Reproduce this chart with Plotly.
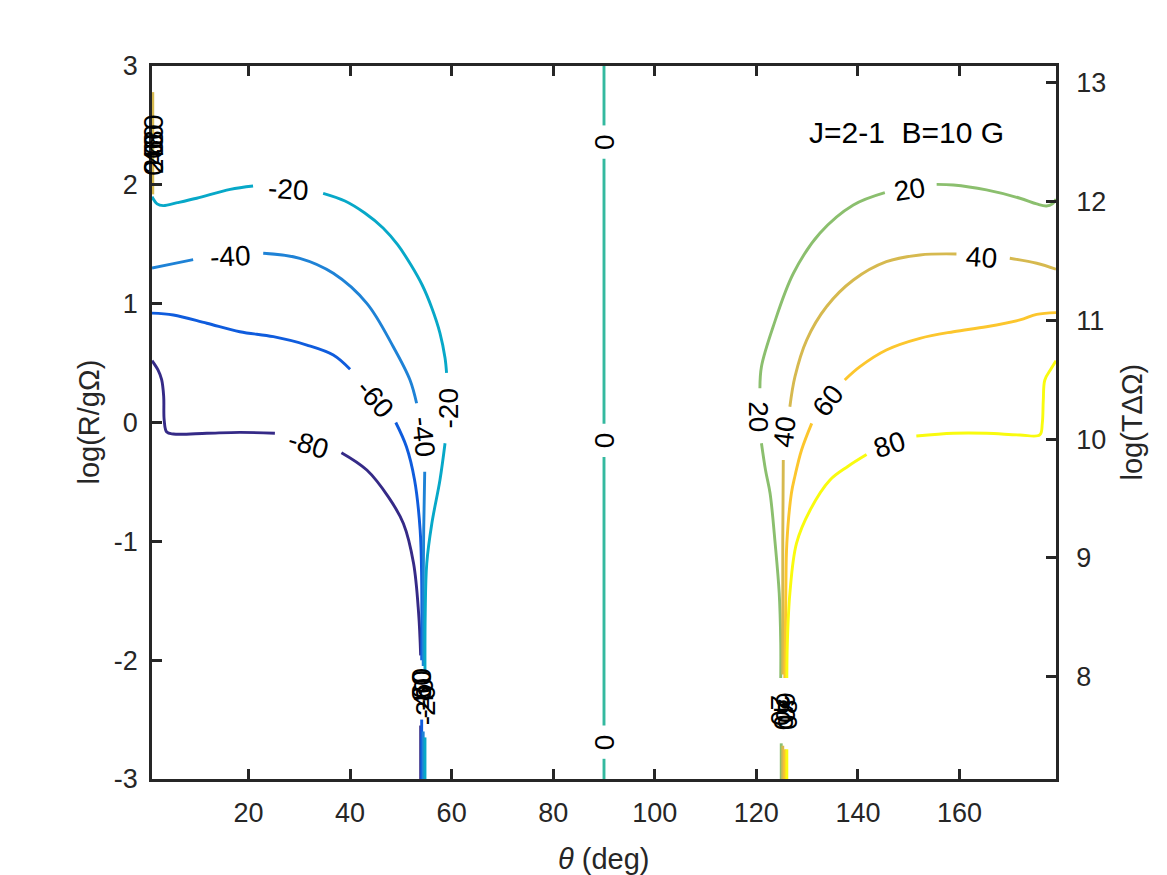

import plotly.graph_objects as go

# contour levels and parula-like colours
levels = [-80, -60, -40, -20, 0, 20, 40, 60, 80]
colors = ["#352a87", "#0f5cdd", "#1e82d6", "#07a8c8", "#34b99f",
          "#8bbf6e", "#d6b94f", "#fcc62d", "#f9fb0e"]

# traced contour paths: theta (deg) and log(R/gOmega); None breaks the line at a label
th_m80 = [1.0, 2.2, 2.9, 3.3, 3.4, 3.9, 5.2, 11.8, 18.3, 25.2, None,
          38.3, 43.3, 47.6, 50.5, 52.5, 53.5, 53.9, None, 53.9, 53.9]
lg_m80 = [0.52, 0.44, 0.36, 0.22, 0.02, -0.08, -0.097, -0.091, -0.083, -0.091, None,
          -0.254, -0.40, -0.63, -0.85, -1.185, -1.606, -1.96, None, -2.55, -3.0]

th_m60 = [1.0, 5.2, 11.8, 18.3, 24.9, 31.5, 36.7, 40.0, None,
          49.0, 51.1, 52.7, 53.8, 54.1, 54.1, None, 54.1, 54.1]
lg_m60 = [0.92, 0.905, 0.835, 0.764, 0.722, 0.652, 0.568, 0.448, None,
          0.0, -0.204, -0.484, -0.905, -1.325, -2.0, None, -2.5, -3.0]

th_m40 = [1.0, 5.0, 9.1, None, 22.9, 30.1, 36.7, 43.3, 48.5, 51.8, 53.1, None,
          54.7, 54.5, 54.4, 54.4, None, 54.4, 54.4]
lg_m40 = [1.30, 1.335, 1.37, None, 1.424, 1.382, 1.256, 1.003, 0.638, 0.358, 0.162, None,
          -0.414, -0.905, -1.5, -2.05, None, -2.6, -3.0]

th_m20 = [1.0, 2.0, 3.2, 6.0, 9.8, 16.4, 20.9, None,
          34.7, 39.0, 42.9, 46.5, 49.4, 52.0, 54.2, 56.1, 57.7, 58.7, 59.0, None,
          58.7, 57.7, 56.1, 55.1, 54.8, 54.75, None, 54.75, 54.75]
lg_m20 = [1.90, 1.84, 1.825, 1.85, 1.887, 1.962, 1.99, None,
          1.929, 1.864, 1.763, 1.637, 1.494, 1.325, 1.157, 0.964, 0.753, 0.543, 0.417, None,
          -0.175, -0.484, -0.85, -1.185, -1.606, -2.1, None, -2.65, -3.0]

th_0 = [90, 90, None, 90, 90, None, 90, 90, None, 90, 90]
lg_0 = [-3.0, -2.83, None, -2.55, -0.29, None, -0.01, 2.22, None, 2.50, 3.0]

th_20 = [124.9, 124.9, None, 124.8, 124.8, 124.5, 123.7, 122.7, 121.8, 121.0, None,
         120.7, 121.0, 123.3, 127.3, 132.5, 139.1, 145.3, None,
         155.5, 158.8, 165.3, 171.9, 175.2, 177.1, 178.3, 179.0]
lg_20 = [-3.0, -2.7, None, -2.15, -1.858, -1.437, -1.017, -0.596, -0.4, -0.175, None,
         0.288, 0.47, 0.806, 1.256, 1.592, 1.83, 1.934, None,
         2.004, 1.999, 1.957, 1.887, 1.839, 1.822, 1.84, 1.88]

th_40 = [125.2, 125.2, None, 125.2, 125.2, 125.3, None,
         126.6, 127.6, 129.9, 133.8, 139.1, 145.6, 152.2, 159.4, None,
         169.9, 175.2, 179.0, None, 1.15, 1.15]
lg_40 = [-3.0, -2.72, None, -2.12, -1.0, -0.316, None,
         0.133, 0.386, 0.694, 0.974, 1.199, 1.353, 1.41, 1.418, None,
         1.382, 1.34, 1.29, None, 1.92, 2.78]

th_60 = [125.6, 125.6, None, 125.6, 125.8, 126.0, 126.9, 127.6, 128.9, 130.9, None,
         137.4, 140.4, 145.6, 152.2, 158.8, 165.3, 171.9, 175.2, 179.0]
lg_60 = [-3.0, -2.75, None, -2.15, -1.437, -1.017, -0.596, -0.45, -0.231, -0.007, None,
         0.358, 0.47, 0.61, 0.708, 0.764, 0.806, 0.863, 0.91, 0.925]

th_80 = [126.0, 126.0, None, 126.0, 126.1, 126.6, 127.9, 130.6, 134.5, 138.0, 141.7, None,
         151.5, 158.8, 165.3, 171.9, 175.8, 176.3, 176.5, 176.8, 178.0, 179.0]
lg_80 = [-3.0, -2.75, None, -2.15, -1.858, -1.437, -1.017, -0.736, -0.484, -0.37, -0.27, None,
         -0.114, -0.091, -0.091, -0.105, -0.105, -0.007, 0.189, 0.358, 0.45, 0.52]

paths_th = [th_m80, th_m60, th_m40, th_m20, th_0, th_20, th_40, th_60, th_80]
paths_lg = [lg_m80, lg_m60, lg_m40, lg_m20, lg_0, lg_20, lg_40, lg_60, lg_80]

# contour labels: text, theta, log(R/gOmega), rotation
lab_text = ["-20", "-40", "-60", "-80", "-40", "-20",
            "0", "0", "0",
            "20", "40", "60", "80", "20", "40",
            "-80", "-60", "-40", "-20",
            "20", "40", "60", "80",
            "0", "20", "40", "60", "80"]
lab_th = [27.8, 16.4, 44.9, 31.8, 54.4, 59.3,
          90, 90, 90,
          150.2, 164.4, 134.1, 146.3, 120.4, 125.6,
          53.9, 54.1, 54.4, 54.75,
          124.9, 125.2, 125.6, 126.0,
          1.3, 1.3, 1.3, 1.3, 1.3]
lab_lg = [1.957, 1.395, 0.204, -0.189, -0.12, 0.119,
          2.36, -0.15, -2.69,
          1.962, 1.39, 0.189, -0.189, 0.049, -0.077,
          -2.26, -2.24, -2.32, -2.38,
          -2.42, -2.46, -2.40, -2.46,
          2.14, 2.22, 2.30, 2.38, 2.46]
lab_ang = [4, -3, 50, 17, 84, -90,
           -90, -90, -90,
           -9, 4, -52, -18, 90, -83,
           -90, -90, -90, -90,
           90, 90, 90, 90,
           -90, -90, -90, -90, -90]

# axis ticks
x_ticks = [20, 40, 60, 80, 100, 120, 140, 160]
y_ticks = [-3, -2, -1, 0, 1, 2, 3]
y2_ticks = [8, 9, 10, 11, 12, 13]

# right axis: log(T dOmega) = log(R/gOmega) + offset
y2_offset = 10.14

FONT = "Liberation Sans, Arial, Helvetica, sans-serif"
AX = "#262626"

W, H = 1167, 875
ml, mr, mt, mb = 152, 111, 66, 96
pw, ph = W - ml - mr, H - mt - mb


def px_x(px):
    return (px - ml) / pw


def px_y(px):
    return (H - mb - px) / ph


fig = go.Figure()
for lev, col, th, lg in zip(levels, colors, paths_th, paths_lg):
    fig.add_trace(go.Scatter(
        x=th, y=lg, mode="lines", name=str(lev),
        line=dict(color=col, width=2.9, shape="spline", smoothing=1.0),
        connectgaps=False, showlegend=False, hoverinfo="skip",
    ))
# empty trace so the right-hand axis gets its ticks
fig.add_trace(go.Scatter(x=[], y=[], yaxis="y2", showlegend=False, hoverinfo="skip"))

for t, x, y, a in zip(lab_text, lab_th, lab_lg, lab_ang):
    fig.add_annotation(x=x, y=y, xref="x", yref="y", text=t, textangle=a,
                       showarrow=False, font=dict(family=FONT, size=28, color="black"))

fig.add_annotation(x=130, y=2.44, xref="x", yref="y", text="J=2-1 \u00a0B=10 G",
                   xanchor="left", yanchor="middle", showarrow=False,
                   font=dict(family=FONT, size=30, color="black"))

# axis titles
fig.add_annotation(x=0.5, y=px_y(859), xref="paper", yref="paper", text="<i>θ</i> (deg)",
                   xanchor="center", yanchor="middle",
                   showarrow=False, font=dict(family=FONT, size=29, color=AX))
fig.add_annotation(x=px_x(88), y=0.5, xref="paper", yref="paper", text="log(R/gΩ)",
                   xanchor="center", yanchor="middle",
                   textangle=-90, showarrow=False, font=dict(family=FONT, size=29, color=AX))
fig.add_annotation(x=px_x(1131), y=0.5, xref="paper", yref="paper", text="log(TΔΩ)",
                   xanchor="center", yanchor="middle",
                   textangle=-90, showarrow=False, font=dict(family=FONT, size=29, color=AX))

axis_style = dict(ticks="inside", ticklen=10, tickwidth=2.5, tickcolor=AX,
                  showline=True, linewidth=2.5, linecolor=AX,
                  showgrid=False, zeroline=False)

fig.update_layout(
    width=W, height=H,
    margin=dict(l=ml, r=mr, t=mt, b=mb, pad=0),
    plot_bgcolor="white", paper_bgcolor="white",
    font=dict(family=FONT, size=27, color=AX),
    xaxis=dict(range=[1, 179], tickvals=x_ticks, ticktext=[str(v) for v in x_ticks],
               mirror="ticks", ticklabelstandoff=8, **axis_style),
    yaxis=dict(range=[-3, 3], tickvals=y_ticks, ticktext=[str(v) for v in y_ticks],
               mirror=False, ticklabelstandoff=6, **axis_style),
    yaxis2=dict(range=[-3 + y2_offset, 3 + y2_offset], tickvals=y2_ticks,
                ticktext=[str(v) for v in y2_ticks],
                overlaying="y", side="right", anchor="x",
                ticklabelstandoff=12, **axis_style),
)

fig.write_html("out.html", config={"displayModeBar": False},
               post_script="document.body.style.margin='0';")
